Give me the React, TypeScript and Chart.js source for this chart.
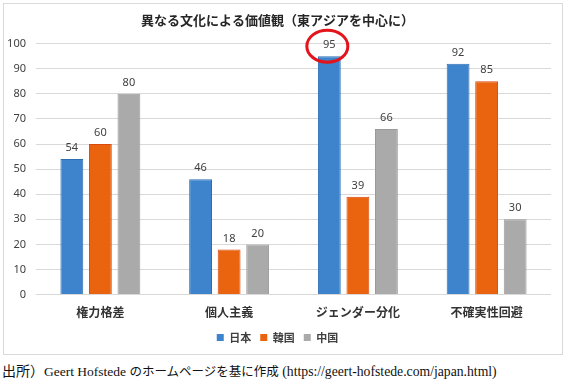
import React, { useEffect, useRef } from "react";
import { Chart, registerables } from "chart.js";

Chart.register(...registerables);

const title = "異なる文化による価値観（東アジアを中心に）";
const categories = ["権力格差", "個人主義", "ジェンダー分化", "不確実性回避"];
const seriesNames = ["日本", "韓国", "中国"];
const japan = [54, 46, 95, 92];
const korea = [60, 18, 39, 85];
const china = [80, 20, 66, 30];
const yTicks = [0, 10, 20, 30, 40, 50, 60, 70, 80, 90, 100];
const highlight = { series: 0, index: 2 };
const sourceHead = "出所）";
const sourceAuthor = "Geert Hofstede ";
const sourceBody = "のホームページを基に作成";
const sourceUrl = " (https://geert-hofstede.com/japan.html)";

const fills = ["#3d84cc", "#ea640f", "#aaaaaa"];
const borders = ["#2e6fb3", "#d94a10", "#9a9a9a"];
const JP = "'Noto Sans CJK JP', 'Noto Sans', sans-serif";

const valueLabels = {
  id: "valueLabels",
  afterDatasetsDraw(chart: any) {
    const ctx = chart.ctx;
    ctx.save();
    ctx.font = "11px 'Noto Sans', 'Noto Sans CJK JP', sans-serif";
    ctx.fillStyle = "#404040";
    ctx.textAlign = "center";
    ctx.textBaseline = "middle";
    chart.data.datasets.forEach((ds: any, di: number) => {
      const meta = chart.getDatasetMeta(di);
      meta.data.forEach((bar: any, i: number) => {
        ctx.fillText(String(ds.data[i]), bar.x, bar.y - 11);
      });
    });
    const hb = chart.getDatasetMeta(highlight.series).data[highlight.index];
    if (hb) {
      ctx.beginPath();
      ctx.strokeStyle = "#e3141b";
      ctx.lineWidth = 3;
      ctx.ellipse(hb.x - 2, hb.y - 10, 20.5, 16, 0, 0, Math.PI * 2);
      ctx.stroke();
    }
    ctx.restore();
  },
};

export default function App() {
  const ref = useRef<HTMLCanvasElement>(null);
  useEffect(() => {
    document.body.style.margin = "0";
    const data = [japan, korea, china];
    const chart = new Chart(ref.current!, {
      type: "bar",
      data: {
        labels: categories,
        datasets: seriesNames.map((n, i) => ({
          label: n,
          data: data[i],
          backgroundColor: fills[i],
          borderColor: borders[i],
          borderWidth: 1,
          categoryPercentage: 0.665,
          barPercentage: 0.8,
        })),
      },
      options: {
        animation: false,
        responsive: false,
        maintainAspectRatio: false,
        layout: { padding: { left: 0, right: 11, top: 0, bottom: 0 } },
        plugins: {
          title: {
            display: true,
            text: title,
            color: "#262626",
            font: { family: JP, size: 13, weight: "bold" },
            padding: { top: 8, bottom: 16 },
          },
          legend: {
            position: "bottom",
            labels: {
              boxWidth: 7,
              boxHeight: 7,
              padding: 9,
              color: "#404040",
              font: { family: JP, size: 11, weight: "bold" },
              generateLabels: (c: any) =>
                c.data.datasets.map((d: any, i: number) => ({
                  text: d.label,
                  fillStyle: fills[i],
                  strokeStyle: fills[i],
                  lineWidth: 0,
                  datasetIndex: i,
                  fontColor: "#404040",
                })),
            },
          },
          tooltip: { enabled: false },
        },
        scales: {
          x: {
            grid: { display: false },
            border: { display: false },
            ticks: {
              color: "#333333",
              font: { family: JP, size: 12, weight: "bold" },
              padding: 3,
            },
          },
          y: {
            min: 0,
            max: 100,
            afterFit: (s: any) => {
              s.width = 32;
            },
            afterBuildTicks: (s: any) => {
              s.ticks = yTicks.map((v) => ({ value: v }));
            },
            grid: { color: "#d9d9d9", drawTicks: false },
            border: { display: false },
            ticks: {
              color: "#404040",
              padding: 10,
              font: { family: "'Noto Sans', sans-serif", size: 11 },
            },
          },
        },
      },
      plugins: [valueLabels],
    });
    return () => chart.destroy();
  }, []);

  return (
    <div style={{ position: "relative", width: 567, height: 380, background: "#fff", overflow: "hidden" }}>
      <div
        style={{
          position: "absolute",
          left: 3,
          top: 3,
          width: 558,
          height: 350,
          border: "1px solid #d9d9d9",
        }}
      >
        <canvas ref={ref} width={558} height={349} style={{ display: "block" }} />
      </div>
      <div
        style={{
          position: "absolute",
          left: 2,
          top: 362,
          fontFamily: "'Liberation Serif', serif",
          fontSize: 14,
          color: "#111",
          whiteSpace: "nowrap",
          lineHeight: "16px",
        }}
      >
        <span style={{ fontFamily: "'Noto Sans CJK JP', sans-serif", fontSize: 14 }}>{sourceHead}</span>
        <span style={{ fontSize: 13.5 }}>{sourceAuthor}</span>
        <span style={{ fontFamily: "'Noto Sans CJK JP', sans-serif", fontSize: 12.5 }}>{sourceBody}</span>
        <span style={{ fontSize: 13.7 }}>{sourceUrl}</span>
      </div>
    </div>
  );
}
